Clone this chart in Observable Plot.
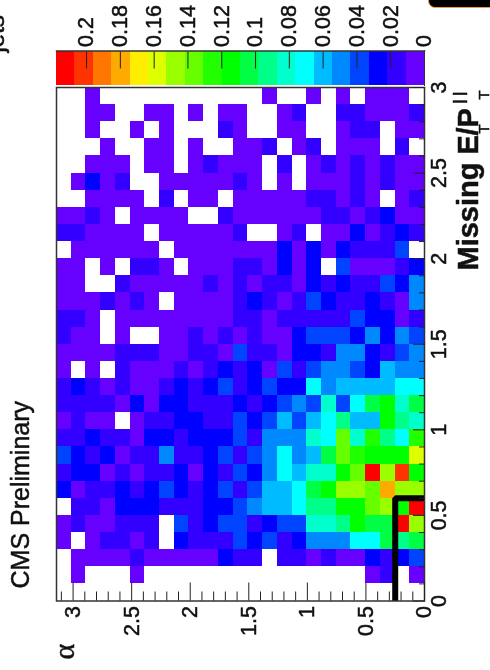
<!DOCTYPE html>
<html>
<head>
<meta charset="utf-8">
<script src="https://cdn.jsdelivr.net/npm/d3@7"></script>
<script src="https://cdn.jsdelivr.net/npm/@observablehq/plot@0.6"></script>
<style>
html,body{margin:0;padding:0;background:#fff;overflow:hidden}
#page{position:relative;width:490px;height:670px;overflow:hidden;filter:blur(0.45px)}
#page svg{position:absolute;left:0;background:transparent;overflow:visible}
#page text{stroke:#111;stroke-width:0.5px}
#corner{position:absolute;left:428px;top:-12px;width:70px;height:18px;background:#000;border:1px solid #f0a040;border-radius:7px}
</style>
</head>
<body>
<div id="page"><div id="corner"></div></div>
<script>
const _ = null;
// Bin contents in thousandths; each row is one Missing ET/PT bin, columns run from alpha = pi (left) to 0 (right)
const row29 = [_,_,5,_,_,_,_,_,_,_,_,_,_,_,5,_,_,5,_,5,_,5,5,5,_];
const row28 = [_,_,5,5,_,_,5,5,_,5,_,5,5,_,_,5,16,_,_,16,16,5,5,5,16];
const row27 = [_,_,5,_,_,5,_,5,_,_,_,16,5,_,_,5,5,_,_,5,16,16,_,5,5];
const row26 = [_,_,_,5,_,_,5,5,_,5,_,_,5,5,16,_,5,16,_,5,5,5,_,16,_];
const row25 = [_,_,5,5,5,_,5,5,_,5,16,5,5,5,_,16,_,5,16,5,16,5,16,5,5];
const row24 = [_,5,27,5,16,_,_,5,5,5,5,5,16,5,_,5,_,5,5,5,16,5,16,5,5];
const row23 = [_,_,5,5,5,5,_,16,_,5,5,_,5,5,5,5,5,16,16,5,16,5,_,5,16];
const row22 = [5,5,16,5,_,5,5,5,5,_,_,16,5,5,5,5,5,5,16,16,5,16,27,5,5];
const row21 = [16,16,5,5,5,5,_,5,5,5,5,5,16,_,_,5,16,_,5,5,27,5,16,27,16];
const row20 = [_,5,5,5,5,5,5,_,5,5,5,5,5,5,5,27,5,27,5,27,16,16,16,38,_];
const row19 = [5,5,_,5,_,16,16,5,_,5,5,5,16,16,5,27,5,27,_,38,5,5,5,16,27];
const row18 = [5,5,_,_,16,5,5,5,5,5,16,5,16,5,16,16,5,27,16,27,16,16,38,27,49];
const row17 = [5,5,5,16,5,16,5,_,5,5,5,5,16,27,16,5,16,38,27,16,16,27,16,5,49];
const row16 = [16,16,5,_,5,5,5,5,5,5,5,5,16,16,5,16,16,16,16,16,38,27,27,5,16];
const row15 = [16,5,5,_,5,_,_,5,5,16,5,16,5,16,5,5,27,38,38,38,27,49,27,49,38];
const row14 = [5,5,5,5,16,16,16,5,5,16,16,5,38,16,16,5,27,27,16,49,49,27,16,38,49];
const row13 = [5,_,5,_,16,5,5,5,16,5,16,27,16,27,5,38,16,38,49,49,38,27,60,49,49];
const row12 = [16,27,16,5,16,5,5,16,27,16,27,38,16,27,38,27,27,71,49,60,60,60,60,71,71];
const row11 = [16,16,16,16,5,27,5,27,27,16,16,16,27,16,27,38,49,38,82,38,71,103,114,82,103];
const row10 = [5,16,5,5,_,5,16,16,27,27,16,16,38,27,38,60,38,60,71,93,60,60,114,93,82];
const row09 = [16,16,27,16,16,5,27,27,16,27,27,27,38,16,49,49,49,82,71,136,82,125,93,71,125];
const row08 = [38,27,16,27,5,16,16,49,16,16,27,38,16,38,49,71,49,60,103,136,125,114,114,114,158];
const row07 = [16,27,27,5,16,5,16,16,27,5,27,16,38,27,49,71,60,82,82,114,136,212,147,201,114];
const row06 = [27,5,16,16,27,16,27,38,27,16,27,38,16,38,60,60,71,103,114,147,147,136,180,147,147];
const row05 = [_,16,16,5,27,27,27,16,16,16,27,27,38,49,60,60,71,93,93,114,114,136,147,114,212];
const row04 = [5,16,5,5,16,16,16,_,38,16,27,38,38,16,27,38,38,82,82,93,114,103,103,212,147];
const row03 = [5,_,5,16,16,5,16,_,27,16,16,16,38,27,38,16,27,49,49,49,71,71,103,93,103];
const row02 = [_,5,5,5,5,16,5,5,5,5,5,27,16,16,_,16,16,5,16,5,5,27,16,27,38];
const row01 = [_,5,_,_,_,5,_,_,_,_,_,_,_,_,_,_,_,_,_,_,_,5,16,_,5];
const row00 = [_,_,_,_,_,_,_,_,_,_,_,_,_,_,_,_,_,_,_,_,_,_,_,_,_];
const rows = [row00,row01,row02,row03,row04,row05,row06,row07,row08,row09,row10,row11,row12,row13,row14,row15,row16,row17,row18,row19,row20,row21,row22,row23,row24,row25,row26,row27,row28,row29];

const alphaMax = Math.PI;
const alphaBinCount = 25;
const missingBinWidth = 0.1;

const colorThresholds = [0.0109,0.0218,0.0327,0.0436,0.0545,0.0653,0.0762,0.0871,0.098,0.1089,0.1198,0.1307,0.1416,0.1525,0.1634,0.1742,0.1851,0.196,0.2069];
const colorMax = 0.2178;
const colorRange = ["#6600ff","#3300ff","#0000ff","#0044ff","#0088ff","#00bbff","#00ffff","#00ffcc","#00ff88","#00ff44","#00ff00","#22ff00","#66ff00","#99ff00","#ddff00","#ffee00","#ffaa00","#ff7700","#ff3300","#ff0000"];

const alphaMajor = [0,0.5,1,1.5,2,2.5,3];
const alphaMinor = [0.1,0.2,0.3,0.4,0.6,0.7,0.8,0.9,1.1,1.2,1.3,1.4,1.6,1.7,1.8,1.9,2.1,2.2,2.3,2.4,2.6,2.7,2.8,2.9,3.1];
const missingMajor = [0,0.5,1,1.5,2,2.5,3];
const missingMinor = [0.1,0.2,0.3,0.4,0.6,0.7,0.8,0.9,1.1,1.2,1.3,1.4,1.6,1.7,1.8,1.9,2.1,2.2,2.3,2.4,2.6,2.7,2.8,2.9];
const colorTicks = [0,0.02,0.04,0.06,0.08,0.1,0.12,0.14,0.16,0.18,0.2];

const cutAlpha = [0.25,0.25,0];
const cutMissing = [0,0.6,0.6];

const colorScale = {type:"threshold", domain:colorThresholds, range:colorRange};
const fontFamily = "'Liberation Sans', Arial, sans-serif";

const cells = rows.flatMap((row, r) => row.map((v, c) => ({
  a1: alphaMax * (alphaBinCount - 1 - c) / alphaBinCount,
  a2: alphaMax * (alphaBinCount - c) / alphaBinCount,
  m1: r * missingBinWidth,
  m2: (r + 1) * missingBinWidth,
  value: v === null ? null : v / 1000
}))).filter(d => d.value !== null);

// helper for rotated labels placed relative to the frame's top-left corner
const rotated = (text, left, top, size, opts = {}) => Plot.text([text], {
  frameAnchor:"top-left", dx:left - 56, dy:top - 87, rotate:-90, textAnchor:"start", lineAnchor:"bottom",
  fontSize:size, fill:"#111", ...opts
});

const main = Plot.plot({
  width:490, height:670,
  marginLeft:56, marginRight:66, marginTop:87, marginBottom:69.5,
  style:{fontFamily, fontSize:"21.5px", background:"transparent", color:"#111"},
  x:{domain:[alphaMax,0], label:null},
  y:{domain:[0,3], label:null},
  color:colorScale,
  marks:[
    Plot.rect(cells, {x1:"a1", x2:"a2", y1:"m1", y2:"m2", fill:"value", shapeRendering:"crispEdges"}),
    Plot.line(cutAlpha.map((a,i)=>({a, m:cutMissing[i]})), {x:"a", y:"m", stroke:"#000", strokeWidth:6, strokeLinejoin:"miter", strokeLinecap:"butt"}),
    Plot.frame({stroke:"#333", strokeWidth:1.5}),
    Plot.axisX({anchor:"bottom", ticks:alphaMajor, tickSize:-18, tickPadding:23, tickRotate:-90, textAnchor:"end", lineAnchor:"middle", tickFormat:d=>String(d), stroke:"#222", fontSize:21.5, label:null}),
    Plot.axisX({anchor:"bottom", ticks:alphaMinor, tickSize:-9, tickFormat:()=>"", stroke:"#222", label:null}),
    Plot.axisY({anchor:"right", ticks:missingMajor, tickSize:-12, tickPadding:33, tickRotate:-90, textAnchor:"middle", lineAnchor:"bottom", tickFormat:d=>String(d), stroke:"#222", fontSize:21.5, label:null}),
    Plot.axisY({anchor:"right", ticks:missingMinor, tickSize:-6, tickFormat:()=>"", stroke:"#222", label:null}),
    rotated("CMS Preliminary", 28, 588, 25),
    rotated("α", 73, 659, 30, {fontFamily:"'Liberation Serif', serif"}),
    rotated("jets", 3, 52, 24),
    rotated("Missing E", 477, 270, 29, {fontWeight:"bold"}),
    rotated("/P", 477, 135, 29, {fontWeight:"bold"}),
    rotated("T", 488, 133, 15, {fontWeight:"normal"}),
    rotated("T", 488, 99, 15, {fontWeight:"normal"}),
    rotated("| |", 463, 103, 14, {fontWeight:"bold"})
  ]
});
main.style.top = "0px";
document.getElementById("page").appendChild(main);

const edges = [0, ...colorThresholds, colorMax];
const bar = colorRange.map((_c, i) => ({low:edges[i], high:edges[i+1], mid:(edges[i]+edges[i+1])/2}));
const legend = Plot.plot({
  width:490, height:86,
  marginLeft:56, marginRight:66, marginTop:50.5, marginBottom:1,
  style:{fontFamily, fontSize:"21.5px", background:"transparent", color:"#111"},
  x:{domain:[colorMax,0], label:null},
  color:colorScale,
  marks:[
    Plot.rect(bar, {x1:"low", x2:"high", fill:"mid", shapeRendering:"crispEdges"}),
    Plot.axisX({anchor:"top", ticks:colorTicks, tickSize:-17, tickPadding:21, tickRotate:-90, textAnchor:"start", lineAnchor:"middle", tickFormat:d=>String(d), stroke:"#222", fontSize:21.5, label:null}),
    Plot.frame({anchor:"top", stroke:"#333", strokeWidth:1.5}),
    Plot.frame({anchor:"right", stroke:"#333", strokeWidth:1})
  ]
});
legend.style.top = "0px";
document.getElementById("page").appendChild(legend);
</script>
</body>
</html>
